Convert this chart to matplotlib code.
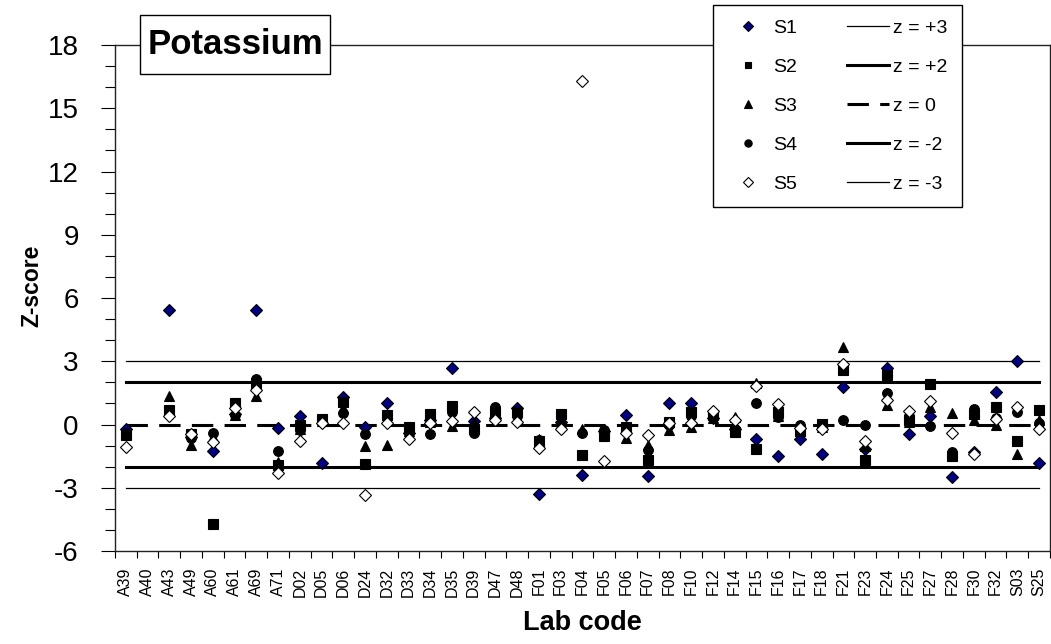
import numpy as np
import matplotlib
matplotlib.use("Agg")
import matplotlib.pyplot as plt
from matplotlib.patches import Rectangle

plt.rcParams["font.family"] = ["Liberation Sans", "DejaVu Sans"]
plt.rcParams["axes.unicode_minus"] = False

nan = np.nan
labs = ["A39", "A40", "A43", "A49", "A60", "A61", "A69", "A71", "D02", "D05",
        "D06", "D24", "D32", "D33", "D34", "D35", "D39", "D47", "D48", "F01",
        "F03", "F04", "F05", "F06", "F07", "F08", "F10", "F12", "F14", "F15",
        "F16", "F17", "F18", "F21", "F23", "F24", "F25", "F27", "F28", "F30",
        "F32", "S03", "S25"]

s1 = [-0.20, nan, 5.42, -0.60, -1.27, 0.50, 5.42, -0.16, 0.40, -1.82,
      1.31, -0.14, 1.00, -0.40, 0.20, 2.66, 0.17, 0.30, 0.80, -3.29,
      0.10, -2.40, -0.30, 0.44, -2.45, 1.00, 1.00, 0.30, -0.20, -0.70,
      -1.50, -0.71, -1.42, 1.79, -1.14, 2.70, -0.47, 0.41, -2.48, -1.30,
      1.55, 3.00, -1.82]
s2 = [-0.50, nan, 0.68, -0.43, -4.74, 1.00, 1.95, -1.90, -0.03, 0.24,
      1.07, -1.85, 0.44, -0.14, 0.52, 0.87, -0.20, 0.60, 0.60, -0.80,
      0.52, -1.45, -0.50, -0.10, -1.70, 0.13, 0.60, 0.44, -0.35, -1.17,
      0.60, -0.30, 0.02, 2.58, -1.69, 2.34, 0.20, 1.94, -1.50, 0.50,
      0.84, -0.80, 0.71]
s3 = [-0.45, nan, 1.34, -0.98, -0.60, 0.44, 1.34, -1.77, -0.20, 0.15,
      0.80, -1.03, -0.98, -0.30, 0.10, -0.08, 0.10, 0.50, 0.30, -0.70,
      0.20, -0.20, -0.55, -0.66, -0.95, -0.27, -0.10, 0.30, 0.36, 1.95,
      0.40, -0.20, -0.10, 3.68, -1.00, 0.92, 0.10, 0.84, 0.57, 0.20,
      -0.03, -1.38, 0.20]
s4 = [-0.40, nan, 0.55, -0.65, -0.40, 0.44, 2.15, -1.25, -0.27, 0.10,
      0.55, -0.43, 0.30, -0.35, -0.43, 0.60, -0.40, 0.84, 0.40, -0.74,
      0.00, -0.40, -0.24, -0.20, -1.22, 0.00, 0.40, 0.50, -0.20, 1.00,
      0.36, 0.00, -0.10, 0.20, 0.00, 1.50, 0.40, -0.06, -1.30, 0.76,
      0.30, 0.60, 0.05]
s5 = [-1.06, nan, 0.40, -0.46, -0.82, 0.79, 1.63, -2.28, -0.79, 0.05,
      0.08, -3.32, 0.05, -0.71, 0.08, 0.16, 0.60, 0.20, 0.13, -1.09,
      -0.19, 16.30, -1.72, -0.40, -0.50, 0.05, 0.05, 0.65, 0.20, 1.82,
      0.95, -0.16, -0.19, 2.85, -0.79, 1.15, 0.65, 1.10, -0.40, -1.40,
      0.24, 0.81, -0.22]

z_levels = [3, 2, 0, -2, -3]
z_names = ["z = +3", "z = +2", "z = 0", "z = -2", "z = -3"]

x = np.arange(len(labs))

fig = plt.figure(figsize=(10.51, 6.44), dpi=100)
ax = fig.add_axes([0.1094, 0.1444, 0.8896, 0.7856])

# reference lines run from the first to the last lab
line_handles = []
for z, name in zip(z_levels, z_names):
    if z == 0:
        h, = ax.plot([x[0], x[-1]], [z, z], color="black", lw=2.2,
                     ls=(0, (7, 3.7)), zorder=2, label=name)
    elif abs(z) == 2:
        h, = ax.plot([x[0], x[-1]], [z, z], color="black", lw=2.2,
                     zorder=2, label=name)
    else:
        h, = ax.plot([x[0], x[-1]], [z, z], color="black", lw=0.9,
                     zorder=2, label=name)
    line_handles.append(h)

series = [
    (s1, "S1", "D", "#000080", 6.2),
    (s2, "S2", "s", "black", 6.5),
    (s3, "S3", "^", "black", 7.5),
    (s4, "S4", "o", "black", 7.0),
    (s5, "S5", "D", "white", 6.2),
]
mark_handles = []
for vals, name, mk, fc, ms in series:
    h, = ax.plot(x, vals, ls="none", marker=mk, ms=ms, mfc=fc, mec="black",
                 mew=0.8, zorder=3, label=name)
    mark_handles.append(h)

ax.set_xlim(-0.5, len(labs) - 0.5)
ax.set_ylim(-6, 18)
ax.set_yticks(np.arange(-6, 19, 3))
ax.set_yticks(np.arange(-6, 19, 1), minor=True)
ax.set_xticks(x)
ax.set_xticklabels(labs, rotation=90, fontsize=11.5)
ax.set_xticks(np.arange(-0.5, len(labs), 1), minor=True)
ax.tick_params(axis="x", which="major", length=0, pad=12)
ax.tick_params(axis="x", which="minor", length=5, width=0.8, direction="out")
ax.tick_params(axis="y", which="major", length=10, width=0.8, labelsize=20, pad=16)
ax.tick_params(axis="y", which="minor", length=7, width=0.8)

for sp in ax.spines.values():
    sp.set_linewidth(1.0)
    sp.set_color("#222222")

ax.set_ylabel("Z-score", fontsize=16.5, fontweight="bold", va="center")
ax.yaxis.set_label_coords(-0.089, 0.524)
ax.set_xlabel("Lab code", fontsize=19.5, fontweight="bold", va="center")
ax.xaxis.set_label_coords(0.5, -0.142)

leg = ax.legend(mark_handles + line_handles,
                [h.get_label() for h in mark_handles + line_handles],
                ncol=2, loc="upper left", bbox_to_anchor=(0.6396, 1.079),
                borderaxespad=0, fontsize=14, frameon=True, fancybox=False,
                framealpha=1, edgecolor="black", markerscale=0.75,
                handlelength=2.16, handletextpad=0.2, columnspacing=2.6,
                labelspacing=1.1, borderpad=0.72)
leg.get_frame().set_linewidth(1.0)
leg.set_zorder(5)

# title box straddling the top of the plot frame
fig.patches.append(Rectangle((140 / 1051, 1 - 74 / 644), 190 / 1051, 59 / 644,
                             transform=fig.transFigure, fc="white", ec="black",
                             lw=1.0, zorder=5))
fig.text(235 / 1051, 1 - 45 / 644, "Potassium", fontsize=25, fontweight="bold",
         ha="center", va="center", zorder=6)

fig.savefig("out.png", dpi=100)
